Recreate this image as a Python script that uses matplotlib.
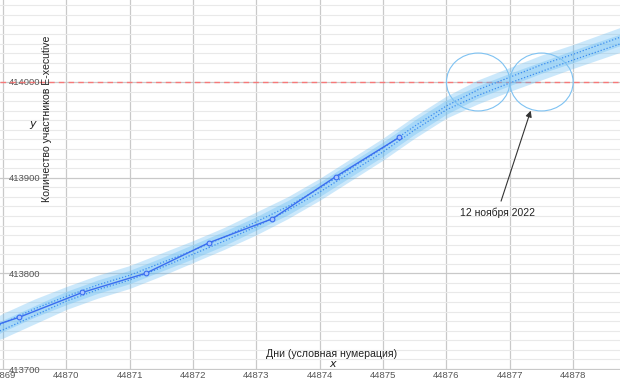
import numpy as np
import matplotlib
matplotlib.use("Agg")
import matplotlib.pyplot as plt
from matplotlib.patches import Ellipse

plt.rcParams['font.family'] = ['Liberation Sans', 'DejaVu Sans']

# observed daily counts
days = [44868.25, 44869.25, 44870.25, 44871.25, 44872.25, 44873.25, 44874.25, 44875.25]
members = [413732, 413754, 413780, 413800, 413832, 413857, 413901, 413942]

# two fitted trend curves (every half day)
fit_x = [44868.95, 44869, 44869.5, 44870, 44870.5, 44871, 44871.5, 44872, 44872.5,
         44873, 44873.5, 44874, 44874.5, 44875, 44875.5, 44876, 44876.5, 44877,
         44877.5, 44878, 44878.75]
fit_upper = [413746, 413748, 413763, 413776, 413788, 413798, 413811, 413824, 413838,
             413854, 413870, 413889, 413910, 413931, 413954, 413975, 413992, 414005,
             414018, 414029, 414047]
fit_lower = [413740, 413741, 413756, 413771, 413783, 413793, 413806, 413820, 413834,
             413849, 413866, 413885, 413906, 413927, 413950, 413971, 413986, 413999,
             414011, 414023, 414040]
band_half = 9.5

target = 414000
circle_days = [44876.5, 44877.5]

fig = plt.figure(figsize=(6.2, 3.84), dpi=100)
ax = fig.add_axes([0, 14 / 384, 1, 370 / 384])

x0 = 44869 - 3 / 63.35
ax.set_xlim(x0, x0 + 620 / 63.35)
ax.set_ylim(413699, 414085.7)

# grid
ax.set_xticks(np.arange(44869, 44879))
ax.set_yticks(np.arange(413700, 414001, 100))
ax.set_yticks(np.arange(413700, 414090, 10), minor=True)
ax.grid(which='major', color='#c9c9c9', lw=0.9)
ax.grid(which='minor', axis='y', color='#e9e9e9', lw=0.8)
ax.set_axisbelow(True)
for s in ax.spines.values():
    s.set_visible(False)

ax.tick_params(axis='x', length=0, pad=1, labelsize=6.8, labelcolor='#555555')
ax.tick_params(axis='y', which='both', length=0, pad=-6, labelsize=6.8, labelcolor='#555555')
for lab in ax.get_yticklabels():
    lab.set_horizontalalignment('left')
ax.xaxis.set_major_formatter(matplotlib.ticker.FormatStrFormatter('%d'))

# bands and fits
fx = np.array(fit_x)
for curve in (fit_upper, fit_lower):
    c = np.array(curve)
    ax.fill_between(fx, c - band_half, c + band_half, color='#55b5f2', alpha=0.3, lw=0, zorder=2)
    ax.plot(fx, c, color='#3c8ef0', lw=0.9, ls=(0, (1, 1.5)), zorder=3)

ax.plot(days, members, color='#3a6df0', lw=1.0, marker='o', ms=3.4,
        mfc='#a9c6ff', mec='#3a6df0', mew=0.8, zorder=4)

ax.axhline(target, color='#ff6b6b', lw=1.0, ls=(0, (4, 3)), alpha=0.85, zorder=1)

for cx in circle_days:
    ax.add_patch(Ellipse((cx, target), 1.0, 60.5, fill=False, ec='#7ec2f2', lw=0.8, zorder=5))

ax.annotate('12 ноября 2022', xy=(44877.33, 413970), xytext=(44876.8, 413863),
            ha='center', va='center', fontsize=7.5, color='#222222',
            arrowprops=dict(arrowstyle='-|>', color='#333333', lw=0.8,
                            mutation_scale=9, shrinkA=3, shrinkB=0), zorder=6)

# axis labels drawn inside the plot
ax.text(332 / 620, 1 - 354 / 370, 'Дни (условная нумерация)', transform=ax.transAxes,
        ha='center', va='center', fontsize=7.6, color='#222222')
ax.text(333 / 620, 1 - 364 / 370, '$x$', transform=ax.transAxes,
        ha='center', va='center', fontsize=8, color='#222222')
ax.text(47 / 620, 1 - 119 / 370, 'Количество участников E-xecutive', transform=ax.transAxes,
        ha='center', va='center', rotation=90, fontsize=7.6, color='#222222')
ax.text(33 / 620, 1 - 125 / 370, '$y$', transform=ax.transAxes,
        ha='center', va='center', fontsize=8, color='#222222')

fig.savefig('out.png', dpi=100)
